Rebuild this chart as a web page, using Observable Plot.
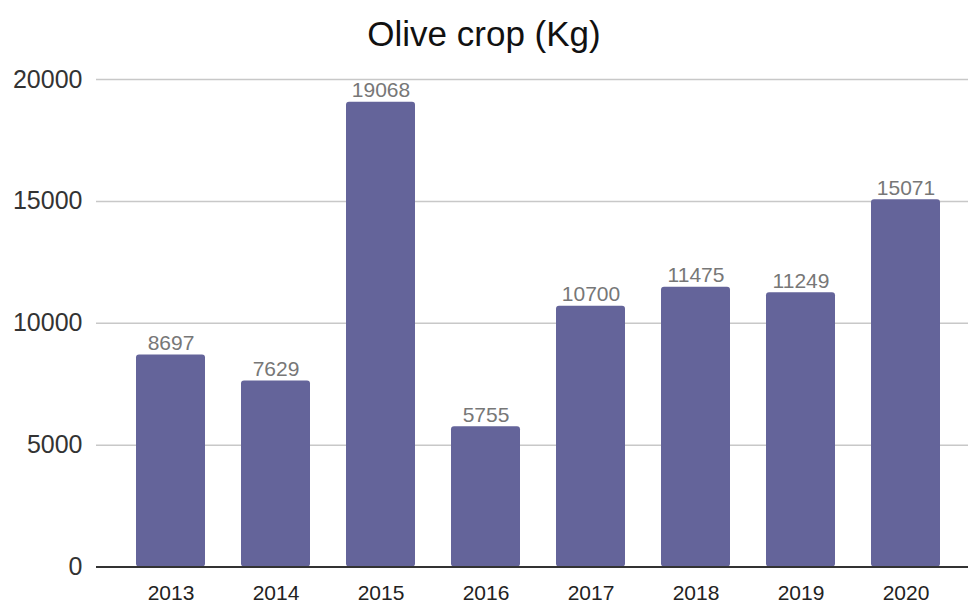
<!DOCTYPE html>
<html>
<head>
<meta charset="utf-8">
<script src="https://cdn.jsdelivr.net/npm/d3@7"></script>
<script src="https://cdn.jsdelivr.net/npm/@observablehq/plot@0.6"></script>
<style>
  html, body { margin: 0; padding: 0; background: #fff; }
  #title { height: 60px; line-height: 68px; text-align: center; font-family: "Liberation Sans", Arial, sans-serif; font-size: 35px; color: #111; white-space: nowrap; }
  svg { display: block; }
</style>
</head>
<body>
<div id="title">Olive crop (Kg)</div>
<div id="chart"></div>
<script>
const years = ["2013", "2014", "2015", "2016", "2017", "2018", "2019", "2020"];
const crop = [8697, 7629, 19068, 5755, 10700, 11475, 11249, 15071];
const yTicks = [0, 5000, 10000, 15000, 20000];

const data = years.map((y, i) => ({year: y, value: crop[i]}));

const chart = Plot.plot({
  width: 968,
  height: 544,
  marginTop: 19,
  marginBottom: 37.5,
  marginLeft: 96,
  marginRight: 0,
  style: {fontFamily: "'Liberation Sans', Arial, sans-serif", background: "white"},
  x: {domain: years, paddingInner: 0.347, paddingOuter: 0.30, align: 0.58, label: null},
  y: {domain: [0, 20000], label: null},
  marks: [
    Plot.ruleY(yTicks.filter(d => d > 0), {stroke: "#c8c8c8", strokeWidth: 1.5}),
    Plot.barY(data, {x: "year", y: "value", fill: "#64649a", rx: 3}),
    Plot.ruleY([0], {stroke: "#333", strokeWidth: 2}),
    Plot.text(data, {x: "year", y: "value", text: d => String(d.value), dy: -5, lineAnchor: "bottom", fontSize: 21, fill: "#777"}),
    Plot.axisY({ticks: yTicks, tickSize: 0, tickPadding: 14, fontSize: 25, color: "#333", tickFormat: d => String(d), label: null}),
    Plot.axisX({tickSize: 0, tickPadding: 18, fontSize: 21, color: "#222", label: null})
  ]
});
document.getElementById("chart").appendChild(chart);
</script>
</body>
</html>
